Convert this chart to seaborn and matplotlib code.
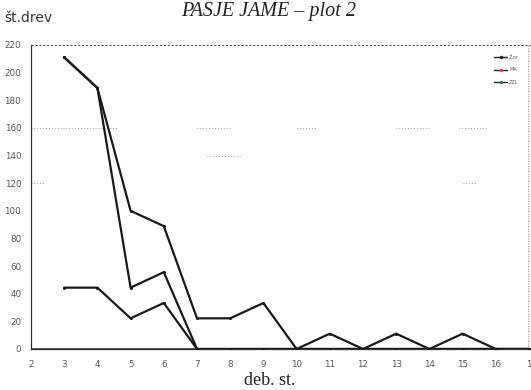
import numpy as np
import pandas as pd
import matplotlib
matplotlib.use("Agg")
import matplotlib.pyplot as plt
import seaborn as sns

# diameter classes
deb_st = [3, 4, 5, 6, 7, 8, 9, 10, 11, 12, 13, 14, 15, 16, 17]

# number of trees per diameter class
skupaj = [211.1, 188.9, 100.0, 88.9, 22.2, 22.2, 33.3, 0, 11.1, 0, 11.1, 0, 11.1, 0, 0]
ziva = [211.1, 188.9, 44.4, 55.6, 0, 0, 0, 0, 0, 0, 0, 0, 0, 0, 0]
mrtva = [44.4, 44.4, 22.2, 33.3, 0, 0, 0, 0, 0, 0, 0, 0, 0, 0, 0]

series_names = ["Ž.or", "MA", "ZZL"]
marker_colors = ["#222222", "#d0406a", "#2e7d4a"]

y_ticks = [0, 20, 40, 60, 80, 100, 120, 140, 160, 180, 200, 220]
x_ticks = list(range(2, 18))
x_ticklabels = ["2", "3", "4", "5", "6", "7", "8", "9", "10", "11", "12", "13", "14", "15", "16", "1"]

df = pd.DataFrame({
    "deb": deb_st * 3,
    "n": skupaj + ziva + mrtva,
    "serija": [series_names[0]] * len(deb_st) + [series_names[1]] * len(deb_st) + [series_names[2]] * len(deb_st),
})

sns.set_style("white")
plt.rcParams["font.family"] = ["DejaVu Sans"]

fig = plt.figure(figsize=(5.31, 3.9), dpi=100)
ax = fig.add_axes([31 / 531, 41 / 390, 500 / 531, 304 / 390])

sns.lineplot(data=df, x="deb", y="n", hue="serija", palette=["#1a1a1a"] * 3,
             linewidth=1.6, marker="o", markersize=2.2, markeredgewidth=0,
             legend=False, ax=ax, zorder=3)

ax.set_xlim(2, 17.06)
ax.set_ylim(0, 220)
ax.set_xticks(x_ticks)
ax.set_xticklabels(x_ticklabels)
ax.set_yticks(y_ticks)
ax.tick_params(axis="both", labelsize=6.3, colors="#555555", length=2, width=0.6)
ax.tick_params(axis="x", pad=6)
ax.tick_params(axis="y", pad=5)
ax.set_xlabel("")
ax.set_ylabel("")

for side in ["left", "bottom"]:
    ax.spines[side].set_color("#333333")
    ax.spines[side].set_linewidth(0.9)
for side in ["top", "right"]:
    ax.spines[side].set_visible(False)
ax.axhline(220, color="#555555", lw=0.8, ls=(0, (2, 1.5)), clip_on=False)
ax.axvline(16.98, color="#666666", lw=0.6, ls=(0, (1, 2)))
ax.axhline(0, color="#222222", lw=1.8, zorder=2)

# faint dotted reference fragments
for yv, x0, x1 in [(160, 2.0, 4.6), (160, 7.0, 8.0), (160, 10.0, 10.6), (160, 13.0, 14.0),
                   (160, 14.9, 15.7), (140, 7.3, 8.3), (120, 2.0, 2.4), (120, 15.0, 15.4)]:
    ax.plot([x0, x1], [yv, yv], color="#777777", lw=0.6, ls=(0, (1, 2.5)))

# legend in the upper right corner
for i, (name, col) in enumerate(zip(series_names, marker_colors)):
    yy = 211 - i * 9
    ax.plot([15.95, 16.35], [yy, yy], color="#222222", lw=1.0)
    ax.plot([16.15], [yy], marker="o", color=col, markersize=2.5, markeredgewidth=0)
    ax.text(16.4, yy, name, fontsize=3.5, color="#555555", va="center")

fig.text(0.506, 0.97, "PASJE JAME \u2013 plot 2", fontsize=14.5, style="italic",
         family=["Liberation Serif"], ha="center", va="center", color="#222222")
fig.text(0.008, 0.955, "št.drev", fontsize=10, ha="left", va="center", color="#333333")
fig.text(0.508, 0.025, "deb. st.", fontsize=13, family=["Liberation Serif"],
         ha="center", va="center", color="#222222")

fig.savefig("out.png", dpi=100)
